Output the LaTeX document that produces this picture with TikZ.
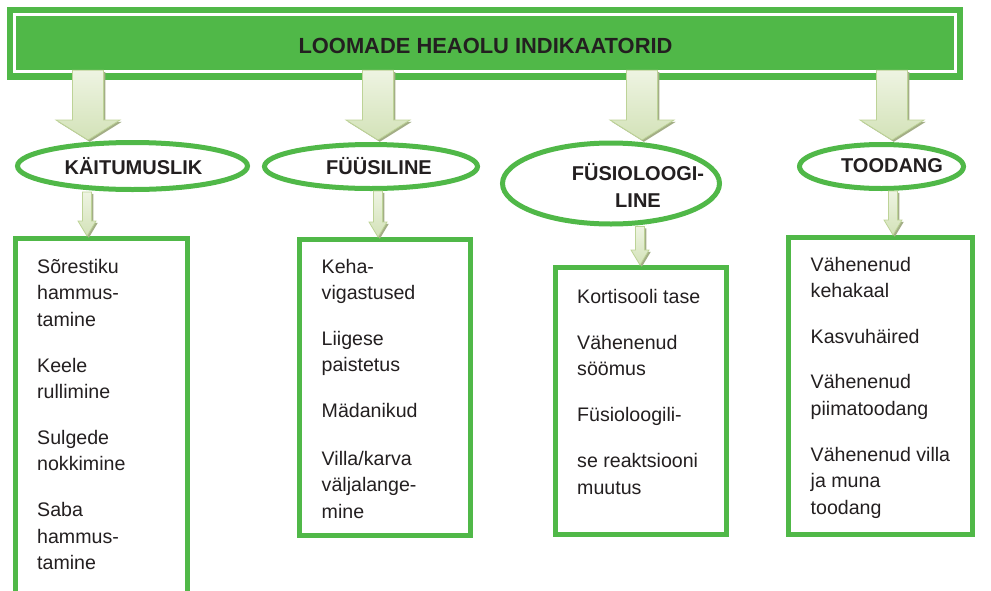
\documentclass[tikz,border=0pt]{standalone}
\usepackage{fontspec}
\setmainfont{Liberation Sans}
\usetikzlibrary{shapes.geometric,calc}

\definecolor{hgreen}{HTML}{50B848}
\definecolor{ink}{HTML}{231F20}
\definecolor{arrowlight}{HTML}{EEF4E2}
\definecolor{arrowmid}{HTML}{D3E2B8}
\definecolor{arrowedge}{HTML}{BDD397}
\definecolor{arrowshadow}{HTML}{A3AE86}

% block arrow: #1 shaft start, #2 tip, #3 half shaft width, #4 half head width, #5 head length
\newcommand{\blockarrow}[5]{%
  \fill[arrowshadow] let \p1=([shift={(1.8pt,-1.8pt)}]#1), \p2=([shift={(1.8pt,-1.8pt)}]#2) in
    (\x1-#3,\y1) -- (\x1+#3,\y1) -- (\x1+#3,\y2+#5) -- (\x1+#4,\y2+#5) --
    (\x1,\y2) -- (\x1-#4,\y2+#5) -- (\x1-#3,\y2+#5) -- cycle;
  \shade[top color=arrowlight, bottom color=arrowmid, draw=arrowedge, line width=0.8pt]
    let \p1=(#1), \p2=(#2) in
    (\x1-#3,\y1) -- (\x1+#3,\y1) -- (\x1+#3,\y2+#5) -- (\x1+#4,\y2+#5) --
    (\x1,\y2) -- (\x1-#4,\y2+#5) -- (\x1-#3,\y2+#5) -- cycle;
}

\tikzset{
  oval/.style={ellipse, draw=hgreen, line width=5pt, fill=white, inner sep=0pt},
  ovaltext/.style={font=\bfseries\fontsize{20}{27}\selectfont, text=ink, align=center, inner sep=0pt},
  listbox/.style={rectangle, draw=hgreen, line width=5pt, fill=white, inner sep=0pt},
  % anchored at the baseline of the last line
  body/.style={font=\fontsize{19.6}{26.4}\selectfont, text=ink, align=left, inner sep=0pt, anchor=base west},
}

\begin{document}
\begin{tikzpicture}[x=1pt, y=-1pt]
\useasboundingbox (0,0) rectangle (991,590);

% title bar
\node[fill=hgreen, minimum width=956pt, minimum height=73pt, inner sep=0pt] (header) at (485,43.5) {};
\draw[white, line width=3pt] ([shift={(8pt,-8pt)}]header.north west) rectangle ([shift={(-8pt,8.5pt)}]header.south east);
\node[font=\bfseries\fontsize{21.9}{26}\selectfont, text=ink, inner sep=0pt] (title) at (485.5,46) {LOOMADE HEAOLU INDIKAATORID};

% categories
\node[oval, minimum width=230pt, minimum height=47pt] (e1) at (132.5,166) {};
\node[oval, minimum width=213pt, minimum height=44pt] (e2) at (371,166.5) {};
\node[oval, minimum width=217pt, minimum height=81pt] (e3) at (611,183.5) {};
\node[oval, minimum width=164pt, minimum height=44pt] (e4) at (881.5,166.5) {};

\node[ovaltext] (l1) at (133.5,166) {KÄITUMUSLIK};
\node[ovaltext] (l2) at (379,166) {FÜÜSILINE};
\node[ovaltext] (l3) at (638,185.5) {FÜSIOLOOGI-\\LINE};
\node[ovaltext] (l4) at (892,166) {TOODANG};

% lists
\node[listbox, minimum width=172pt, minimum height=371.5pt] (b1) at (101.5,424.25) {};
\node[listbox, minimum width=171pt, minimum height=296pt] (b2) at (385,387.5) {};
\node[listbox, minimum width=171pt, minimum height=267pt] (b3) at (641,401) {};
\node[listbox, minimum width=184pt, minimum height=297pt] (b4) at (880.5,386) {};

\node[body] (t1) at (37,569.5) {Sõrestiku\\hammus-\\tamine\\[19.5pt]Keele\\rullimine\\[19.5pt]Sulgede\\nokkimine\\[19.5pt]Saba\\hammus-\\tamine};
\node[body] (t2) at (321.5,518) {Keha-\\vigastused\\[19.5pt]Liigese\\paistetus\\[19.5pt]Mädanikud\\[21pt]Villa/karva\\väljalange-\\mine};
\node[body] (t3) at (577,494) {Kortisooli tase\\[20pt]Vähenenud\\söömus\\[19pt]Füsioloogili-\\[20pt]se reaktsiooni\\muutus};
\node[body] (t4) at (810.5,514) {Vähenenud\\kehakaal\\[19pt]Kasvuhäired\\[19.5pt]Vähenenud\\piimatoodang\\[19.5pt]Vähenenud villa\\ja muna\\toodang};

% arrows from the title bar to the categories
\coordinate (s1) at ([yshift=10pt]header.south -| 88,0);
\coordinate (s2) at ([yshift=10pt]header.south -| 378,0);
\coordinate (s3) at ([yshift=10pt]header.south -| 642,0);
\coordinate (s4) at ([yshift=10pt]header.south -| 892,0);
\coordinate (p1) at (s1 |- e1.north);
\coordinate (p2) at (s2 |- e1.north);
\coordinate (p3) at (s3 |- e1.north);
\coordinate (p4) at (s4 |- e1.north);
\blockarrow{s1}{p1}{15.5pt}{32pt}{20pt}
\blockarrow{s2}{p2}{15.5pt}{32pt}{20pt}
\blockarrow{s3}{p3}{15.5pt}{32pt}{20pt}
\blockarrow{s4}{p4}{15.5pt}{32pt}{20pt}

% arrows from the categories to the lists
\coordinate (d1) at (87,0 |- e1.south);
\coordinate (d2) at (378,0 |- e2.south);
\coordinate (d3) at (640,0 |- e3.south);
\coordinate (d4) at (893,0 |- e4.south);
\coordinate (q1) at (d1 |- b1.north);
\coordinate (q2) at (d2 |- b2.north);
\coordinate (q3) at (d3 |- b3.north);
\coordinate (q4) at (d4 |- b4.north);
\blockarrow{d1}{q1}{4.5pt}{9pt}{15pt}
\blockarrow{d2}{q2}{4.5pt}{9pt}{15pt}
\blockarrow{d3}{q3}{4.5pt}{9pt}{15pt}
\blockarrow{d4}{q4}{4.5pt}{9pt}{15pt}
\end{tikzpicture}
\end{document}
